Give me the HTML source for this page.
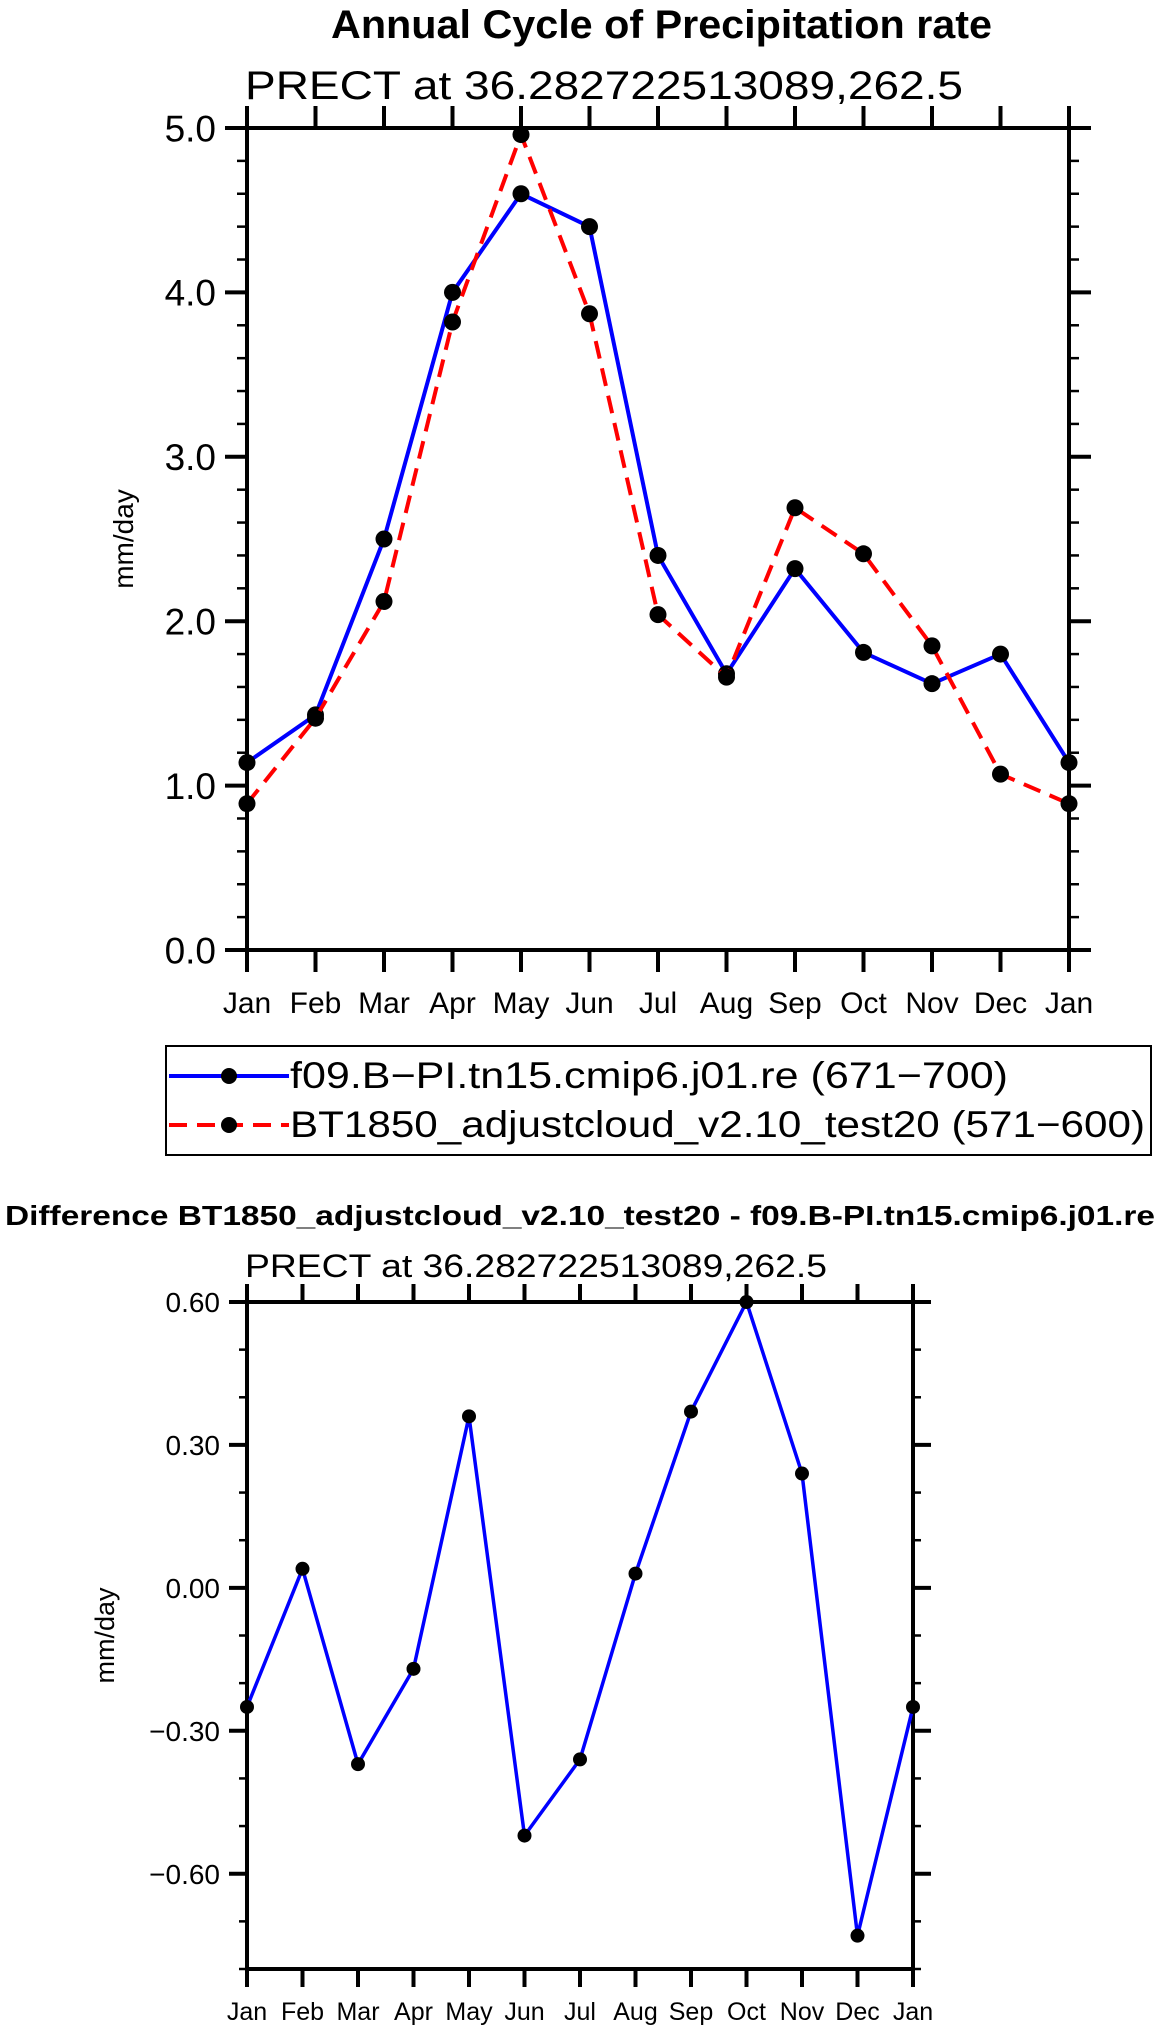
<!DOCTYPE html>
<html><head><meta charset="utf-8"><style>
html,body{margin:0;padding:0;background:#fff;}
svg{display:block;font-family:"Liberation Sans",sans-serif;}
</style></head><body>
<svg id="chart" width="1161" height="2031" viewBox="0 0 1161 2031" xmlns="http://www.w3.org/2000/svg">
<rect width="1161" height="2031" fill="#fff"/>
<text x="331" y="38" font-size="40" font-weight="bold" textLength="661" lengthAdjust="spacingAndGlyphs">Annual Cycle of Precipitation rate</text>
<text x="245" y="99" font-size="40" textLength="718" lengthAdjust="spacingAndGlyphs">PRECT at 36.282722513089,262.5</text>
<g id="top"></g>
<g>
<rect x="166" y="1046" width="985" height="109" fill="none" stroke="#000" stroke-width="2"/>
<g>
<line x1="169" y1="1076" x2="289" y2="1076" stroke="#00f" stroke-width="4"/>
<circle cx="229" cy="1076" r="8" fill="#000"/>
<text x="290" y="1088" font-size="37" textLength="718" lengthAdjust="spacingAndGlyphs">f09.B−PI.tn15.cmip6.j01.re (671−700)</text>
</g>
<g>
<line x1="169" y1="1125" x2="289" y2="1125" stroke="#f00" stroke-width="4" stroke-dasharray="18,10"/>
<circle cx="229" cy="1125" r="8" fill="#000"/>
<text x="290" y="1137" font-size="37" textLength="855" lengthAdjust="spacingAndGlyphs">BT1850_adjustcloud_v2.10_test20 (571−600)</text>
</g>
</g>
<text x="5" y="1225" font-size="28" font-weight="bold" textLength="1150" lengthAdjust="spacingAndGlyphs">Difference BT1850_adjustcloud_v2.10_test20 - f09.B-PI.tn15.cmip6.j01.re</text>
<text x="245" y="1277" font-size="32" textLength="582" lengthAdjust="spacingAndGlyphs">PRECT at 36.282722513089,262.5</text>
<g id="bot"></g>
</svg>
<script>
const months = ["Jan","Feb","Mar","Apr","May","Jun","Jul","Aug","Sep","Oct","Nov","Dec","Jan"];
const blueValues = [1.14,1.43,2.50,4.00,4.60,4.40,2.40,1.68,2.32,1.81,1.62,1.80,1.14];
const redValues = [0.89,1.41,2.12,3.82,4.96,3.87,2.04,1.66,2.69,2.41,1.85,1.07,0.89];
const diffValues = [-0.25,0.04,-0.37,-0.17,0.36,-0.52,-0.36,0.03,0.37,0.60,0.24,-0.73,-0.25];
const topTicks = ["0.0","1.0","2.0","3.0","4.0","5.0"];
const botTicks = ["-0.60","-0.30","0.00","0.30","0.60"];

const NS="http://www.w3.org/2000/svg";
function mk(parent,tag,attrs){const e=document.createElementNS(NS,tag);for(const k in attrs)e.setAttribute(k,attrs[k]);parent.appendChild(e);return e;}

function plot(g,o){
  const xs=i=>o.L+(o.R-o.L)*i/(months.length-1);
  const ys=v=>o.B-(v-o.min)/(o.max-o.min)*(o.B-o.T);
  for(let v=o.min;v<=o.max+1e-9;v+=o.minor){
    const y=ys(v);
    const t1=mk(g,'line',{x1:o.L-o.mn,y1:y,x2:o.L,y2:y,stroke:'#000','stroke-width':2.5});
    
    
    const t2=mk(g,'line',{x1:o.R,y1:y,x2:o.R+o.mn,y2:y,stroke:'#000','stroke-width':2.5});
    
    
  }
  o.ticks.forEach(s=>{
    const v=parseFloat(s);const y=ys(v);
    const a=mk(g,'line',{x1:o.L-o.mj,y1:y,x2:o.L,y2:y,stroke:'#000','stroke-width':4});
    
    
    const b=mk(g,'line',{x1:o.R,y1:y,x2:o.R+o.mj,y2:y,stroke:'#000','stroke-width':4});
    
    
    const t=mk(g,'text',{x:o.L-o.mj-9,y:y+o.fy*0.36,'font-size':o.fy,'text-anchor':'end'});
    t.textContent=s.replace('-','−');
    
    
  });
  months.forEach((m,i)=>{
    const x=xs(i);
    const a=mk(g,'line',{x1:x,y1:o.B,x2:x,y2:o.B+o.xt,stroke:'#000','stroke-width':4});
    
    
    const b=mk(g,'line',{x1:x,y1:o.T-o.xt,x2:x,y2:o.T,stroke:'#000','stroke-width':4});
    
    
    const t=mk(g,'text',{x:x,y:o.xly,'font-size':o.fx,'text-anchor':'middle'});
    t.textContent=m;
    
    
  });
  const fr=mk(g,'rect',{x:o.L,y:o.T,width:o.R-o.L,height:o.B-o.T,fill:'none',stroke:'#000','stroke-width':4});
  
  
  const yl=mk(g,'text',{x:0,y:0,'font-size':o.fyl,'text-anchor':'middle',transform:`translate(${o.ylx},${(o.T+o.B)/2}) rotate(-90)`});
  yl.textContent='mm/day';
  
  
  o.series.forEach(s=>{
    const pts=s.vals.map((v,i)=>xs(i)+','+ys(v)).join(' ');
    const pl=mk(g,'polyline',{points:pts,fill:'none',stroke:s.color,'stroke-width':o.lw,'stroke-dasharray':s.dash||'none'});
    
    
    s.vals.forEach((v,i)=>{
      const c=mk(g,'circle',{cx:xs(i),cy:ys(v),r:o.r,fill:'#000'});
      
      
    });
  });
}
plot(document.getElementById('top'),{L:247,R:1069,T:128,B:950,min:0,max:5,minor:0.2,mn:10,mj:22,xt:22,
  ticks:topTicks,fy:37,fx:30,xly:1013,fyl:28,ylx:133,lw:4,r:8.5,
  series:[{name:'f09',vals:blueValues,color:'#00f'},{name:'bt1850',vals:redValues,color:'#f00',dash:'18,10'}]});
plot(document.getElementById('bot'),{L:247,R:913,T:1302,B:1969,min:-0.8,max:0.6,minor:0.1,mn:8,mj:18,xt:18,
  ticks:botTicks,fy:28,fx:25,xly:2020,fyl:27,ylx:114,lw:3.5,r:7,
  series:[{name:'difference',vals:diffValues,color:'#00f'}]});
</script>
</body></html>
